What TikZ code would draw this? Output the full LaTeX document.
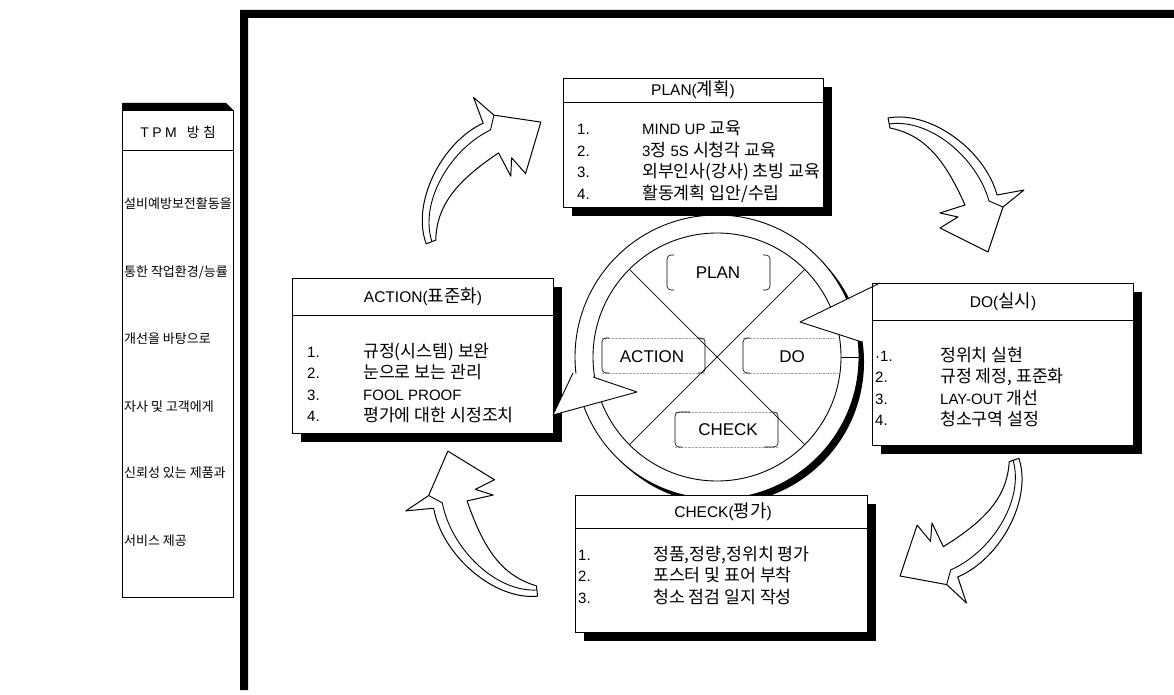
\documentclass[tikz,border=0pt]{standalone}
\usepackage{fontspec}
\setmainfont{Liberation Sans}
\newfontfamily\kr[Scale=1.15]{Noto Sans CJK KR}
\usetikzlibrary{calc,shadows}
\newcommand\curvedarrow[4]{%
\begin{scope}[shift={(#1,#2)},rotate=#3,scale=#4]
\draw[bigarrow] (-1,-5) .. controls (41,-13) and (96,27) .. (108,72) -- (135,67) -- (114,84) -- (99,129) -- (51,105) -- (69,94) -- (51,90) -- (76,82) .. controls (56,37) and (36,12) .. (1,5) -- cycle;
\draw[line width=0.9pt] (0,1) .. controls (41,-5) and (88,35) .. (100,78) -- (114,84);
\end{scope}}
\begin{document}
\begin{tikzpicture}[x=1pt,y=-1pt,
  box/.style={draw=black,line width=0.6pt,fill=white,inner sep=0pt,anchor=north west,
     drop shadow={fill=black,opacity=1,shadow xshift=9pt,shadow yshift=-9pt}},
  sep/.style={line width=0.6pt},
  ttl/.style={font=\fontsize{15.5}{18}\selectfont,inner sep=0pt},
  lst/.style={font=\fontsize{15}{21.5}\selectfont,inner sep=0pt,anchor=base west},
  tpmtxt/.style={font=\fontsize{11.3}{15}\selectfont\kr,inner sep=0pt,anchor=base west},
  lbl/.style={font=\fontsize{17}{19}\selectfont,inner sep=0pt},
  lframe/.style={line width=0.6pt,rounded corners=4pt},
  faint/.style={line width=0.4pt,black!35,densely dotted},
  bigarrow/.style={draw=black,line width=1pt,fill=white,line join=round},
  ring/.style={line width=0.9pt},
]
\useasboundingbox (0,0) rectangle (1174,695);
\fill[white] (0,0) rectangle (1174,695);

% outer frame
\fill[black] (240,10) -- (1174,10) -- (1174,18) -- (248,18) -- (248,690) -- (240,690) -- cycle;

% TPM box
\node[draw=black,line width=0.6pt,inner sep=0pt,anchor=north west,minimum width=111pt,minimum height=487pt] (tpm) at (122,110) {};
\fill[black] (122,103) -- (226,103) -- (233,110) -- (122,110) -- cycle;
\draw[sep] (122,150) -- (233,150);
\node[font=\fontsize{14}{16}\selectfont,inner sep=0pt] (tpmtitle) at (178,132) {T\hspace{3.5pt}P\hspace{3.5pt}M\hspace{10pt}{\fontsize{12}{14}\selectfont\kr 방}\hspace{3.5pt}{\fontsize{12}{14}\selectfont\kr 침}};
\node[tpmtxt] (t1) at (124,208) {설비예방보전활동을};
\node[tpmtxt] (t2) at (124,276) {통한 작업환경/능률};
\node[tpmtxt] (t3) at (124,343) {개선을 바탕으로};
\node[tpmtxt] (t4) at (124,411) {자사 및 고객에게};
\node[tpmtxt] (t5) at (124,477) {신뢰성 있는 제품과};
\node[tpmtxt] (t6) at (124,545) {서비스 제공};

% big curved arrows
\curvedarrow{889}{123}{0}{1}
\curvedarrow{1014}{460}{-82}{1}
\curvedarrow{537}{591}{-185}{1.02}
\curvedarrow{431}{242}{-260}{1}

% circle
\coordinate (c) at (717,357);
\fill[black] (722,362) circle (142);
\draw[ring,fill=white] (c) circle (142);
\draw[ring] (c) circle (124);
\draw[line width=0.7pt] (c) -- ++(-87.7,-87.7);
\draw[line width=0.7pt] (c) -- ++(87.7,-87.7);
\draw[line width=0.7pt] (c) -- ++(-87.7,87.7);
\draw[line width=0.7pt] (c) -- ++(87.7,87.7);
\draw[ring] (841,357) -- (859,357);

% label frames
\draw[lframe] (674,255) -- (667,255) -- (667,290) -- (674,290);
\draw[lframe] (763,255) -- (770,255) -- (770,290) -- (763,290);
\node[lbl] (lplan) at (718,273) {PLAN};
\draw[faint] (602,338) -- (705,338);
\draw[faint] (602,373) -- (705,373);
\draw[lframe] (609,338) -- (602,338) -- (602,373) -- (609,373);
\draw[lframe] (698,338) -- (705,338) -- (705,373) -- (698,373);
\node[lbl] (laction) at (652,357) {ACTION};
\draw[faint] (743,338) -- (835,338);
\draw[faint] (743,373) -- (840,373);
\draw[lframe] (750,338) -- (743,338) -- (743,373) -- (750,373);
\node[lbl] (ldo) at (792,357) {DO};
\draw[faint] (675,412) -- (778,412);
\draw[faint] (675,447) -- (778,447);
\draw[lframe] (690,412) -- (675,412) -- (675,447) -- (682,447);
\draw[lframe] (771,412) -- (778,412) -- (778,447) -- (764,447);
\node[lbl] (lcheck) at (728,430) {CHECK};

% PLAN box
\node[box,minimum width=260pt,minimum height=129pt] (plan) at (563,78) {};
\draw[sep] ($(plan.north west)+(0,24)$) -- ($(plan.north east)+(0,24)$);
\node[ttl] (plantitle) at (693,90) {PLAN({\kr 계획})};
\node[lst] (planlist) at (577,135) {\begin{tabular}[t]{@{}p{65pt}@{}l@{}}
1. & MIND UP {\kr 교육}\\
2. & 3{\kr 정} 5S {\kr 시청각 교육}\\
3. & {\kr 외부인사(강사) 초빙 교육}\\
4. & {\kr 활동계획 입안/수립}
\end{tabular}};

% ACTION box
\node[box,minimum width=261pt,minimum height=155pt] (action) at (292,278) {};
\draw[sep] ($(action.north west)+(0,37)$) -- ($(action.north east)+(0,37)$);
\node[ttl] (actiontitle) at (423,297) {ACTION({\kr 표준화})};
\node[lst] (actionlist) at (307,357) {\begin{tabular}[t]{@{}p{56pt}@{}l@{}}
1. & {\kr 규정(시스템) 보완}\\
2. & {\kr 눈으로 보는 관리}\\
3. & FOOL PROOF\\
4. & {\kr 평가에 대한 시정조치}
\end{tabular}};

% DO box
\node[box,minimum width=261pt,minimum height=162pt] (do) at (872,283) {};
\draw[sep] ($(do.north west)+(0,37)$) -- ($(do.north east)+(0,37)$);
\node[ttl] (dotitle) at (1003,302) {DO({\kr 실시})};
\node[lst] (dolist) at (875,361) {\begin{tabular}[t]{@{}p{65pt}@{}l@{}}
·1. & {\kr 정위치 실현}\\
2. & {\kr 규정 제정, 표준화}\\
3. & LAY-OUT {\kr 개선}\\
4. & {\kr 청소구역 설정}
\end{tabular}};

% CHECK box
\node[box,minimum width=292pt,minimum height=137pt] (check) at (575,495) {};
\draw[sep] ($(check.north west)+(0,33)$) -- ($(check.north east)+(0,33)$);
\node[ttl] (checktitle) at (723,512) {CHECK({\kr 평가})};
\node[lst] (checklist) at (578,560) {\begin{tabular}[t]{@{}p{75pt}@{}l@{}}
1. & {\kr 정품,정량,정위치 평가}\\
2. & {\kr 포스터 및 표어 부착}\\
3. & {\kr 청소 점검 일지 작성}
\end{tabular}};

% pointers from ring
\fill[white] (848,298) -- (880,283) -- (800,322) -- (862,342) -- (867,320) -- cycle;
\draw[ring,line join=round] (880,283) -- (800,322) -- (862,342);
\fill[white] (573,373) -- (553,415) -- (637,392) -- (593,377) -- cycle;
\draw[ring,line join=round] (573,373) -- (553,415) -- (637,392) -- (593,377);
\end{tikzpicture}
\end{document}
